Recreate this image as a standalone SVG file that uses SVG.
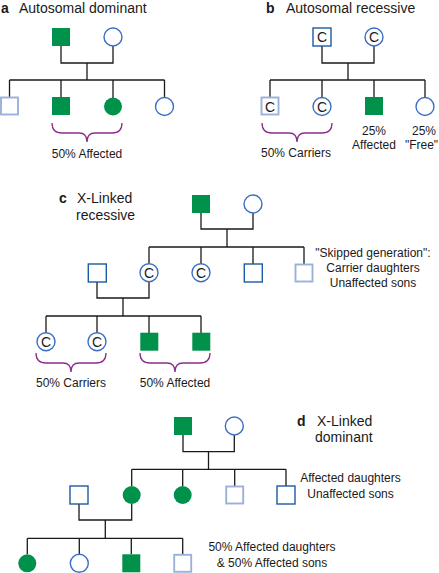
<svg xmlns="http://www.w3.org/2000/svg" width="439" height="573" viewBox="0 0 439 573">
<style>
text{font-family:"Liberation Sans",Arial,sans-serif;fill:#1a1a1a}
.t{font-size:14px}
.b{font-size:14px;font-weight:bold}
.l{font-size:12px;text-anchor:middle}
.c{font-size:14px;text-anchor:middle}
.aff{fill:#00914b;stroke:none}
.cir{fill:#fff;stroke:#3a6fc4;stroke-width:1.4}
.dk{fill:#fff;stroke:#1a5aa8;stroke-width:1.4}
.lt{fill:#fff;stroke:#9cb1da;stroke-width:1.9}
.ln{fill:none;stroke:#1a1a1a;stroke-width:1.3}
.br{fill:none;stroke:#8b2f8a;stroke-width:1.3}
</style>
<rect width="439" height="573" fill="#fff"/>

<!-- Panel a -->
<g id="title-a"><text class="b" x="1" y="13">a</text><text class="t" x="19" y="13">Autosomal dominant</text></g>
<g id="connectors-a">
<path class="ln" d="M61,46V63H113V46M87,63V80M9.5,80H164.5M9.5,80V97M61,80V97M113,80V98M164.5,80V98"/>
</g>
<g id="a-father"><rect class="aff" x="52" y="28" width="18" height="18"/></g>
<g id="a-mother"><circle class="cir" cx="113" cy="37" r="9"/></g>
<g id="a-child1"><rect class="lt" x="1" y="97.5" width="17" height="17"/></g>
<g id="a-child2"><rect class="aff" x="52" y="97" width="18" height="18"/></g>
<g id="a-child3"><circle class="aff" cx="113" cy="106.5" r="9"/></g>
<g id="a-child4"><circle class="cir" cx="164.5" cy="106.5" r="9"/></g>
<g id="a-brace"><path class="br" d="M52,123Q52,133 62,133H79Q87,133 87,142Q87,133 95,133H112Q122,133 122,123"/>
<text class="l" x="87" y="158">50% Affected</text></g>

<!-- Panel b -->
<g id="title-b"><text class="b" x="266" y="13">b</text><text class="t" x="286" y="13">Autosomal recessive</text></g>
<g id="connectors-b">
<path class="ln" d="M322,46V63H374V46M348,63V80M270,80H425M270,80V97M322,80V98M374,80V97M425,80V98"/>
</g>
<g id="b-father"><rect class="dk" x="313" y="28" width="18" height="18"/><text class="c" x="322" y="42">C</text></g>
<g id="b-mother"><circle class="cir" cx="374" cy="37" r="9"/><text class="c" x="374" y="42">C</text></g>
<g id="b-child1"><rect class="lt" x="261.5" y="97.5" width="17" height="17"/><text class="c" x="270" y="111.5">C</text></g>
<g id="b-child2"><circle class="cir" cx="322" cy="106.5" r="9"/><text class="c" x="322" y="111.5">C</text></g>
<g id="b-child3"><rect class="aff" x="365" y="97" width="18" height="18"/></g>
<g id="b-child4"><circle class="cir" cx="425" cy="106.5" r="9"/></g>
<g id="b-brace"><path class="br" d="M262,123Q262,133 272,133H289Q297,133 297,142Q297,133 305,133H322Q332,133 332,123"/>
<text class="l" x="296" y="157">50% Carriers</text></g>
<g id="b-labels"><text class="l" x="374" y="135">25%</text><text class="l" x="374" y="149">Affected</text>
<text class="l" x="424" y="135">25%</text><text class="l" x="421.5" y="149">"Free"</text></g>

<!-- Panel c -->
<g id="title-c"><text class="b" x="59" y="203">c</text><text class="t" x="77" y="203">X-Linked</text><text class="t" x="76" y="220">recessive</text></g>
<g id="connectors-c">
<path class="ln" d="M201,213V229H253V213M227,229V247M149,247H304M149,247V264M201,247V264M253,247V264M304,247V264"/>
<path class="ln" d="M97,282V298H149V281.5M123,298V316M46,316H201M46,316V333M97,316V333M149,316V333M201,316V333"/>
</g>
<g id="c-father"><rect class="aff" x="192" y="195" width="18" height="18"/></g>
<g id="c-mother"><circle class="cir" cx="253" cy="204" r="9"/></g>
<g id="c-spouse"><rect class="dk" x="88.3" y="264" width="18" height="18"/></g>
<g id="c-daughter1"><circle class="cir" cx="149" cy="272.7" r="9"/><text class="c" x="149" y="277.7">C</text></g>
<g id="c-daughter2"><circle class="cir" cx="201" cy="272.7" r="9"/><text class="c" x="201" y="277.7">C</text></g>
<g id="c-son1"><rect class="dk" x="244.3" y="264" width="18" height="18"/></g>
<g id="c-son2"><rect class="lt" x="295.5" y="264.5" width="17" height="17"/></g>
<g id="c-note"><text class="l" x="373" y="257">"Skipped generation":</text><text class="l" x="373" y="272">Carrier daughters</text><text class="l" x="373" y="287">Unaffected sons</text></g>
<g id="c-gc1"><circle class="cir" cx="46" cy="341.7" r="9"/><text class="c" x="46" y="346.7">C</text></g>
<g id="c-gc2"><circle class="cir" cx="97" cy="341.7" r="9"/><text class="c" x="97" y="346.7">C</text></g>
<g id="c-gc3"><rect class="aff" x="140.3" y="332.7" width="18" height="18"/></g>
<g id="c-gc4"><rect class="aff" x="192.3" y="332.7" width="18" height="18"/></g>
<g id="c-brace1"><path class="br" d="M36,353Q36,363 46,363H63Q71,363 71,372Q71,363 79,363H96Q106,363 106,353"/>
<text class="l" x="71" y="387">50% Carriers</text></g>
<g id="c-brace2"><path class="br" d="M140,353Q140,363 150,363H167Q175,363 175,372Q175,363 183,363H200Q210,363 210,353"/>
<text class="l" x="175" y="387">50% Affected</text></g>

<!-- Panel d -->
<g id="title-d"><text class="b" x="297" y="426">d</text><text class="t" x="317" y="426">X-Linked</text><text class="t" x="315" y="442">dominant</text></g>
<g id="connectors-d">
<path class="ln" d="M183,435V451.7H234.3V435M208.5,451.7V469.3M131.7,469.3H286M131.7,469.3V486M182.7,469.3V486M234.7,469.3V486M286,469.3V486"/>
<path class="ln" d="M79,504V520H131.7V504M105.3,520V538.3M27.3,538.3H182.7M27.3,538.3V554.3M79.3,538.3V554.3M131.3,538.3V554.3M182.7,538.3V554.3"/>
</g>
<g id="d-father"><rect class="aff" x="174" y="417" width="18" height="18"/></g>
<g id="d-mother"><circle class="cir" cx="234.3" cy="426" r="9"/></g>
<g id="d-spouse"><rect class="dk" x="70" y="486" width="18" height="18"/></g>
<g id="d-daughter1"><circle class="aff" cx="131.7" cy="495" r="9"/></g>
<g id="d-daughter2"><circle class="aff" cx="182.7" cy="495" r="9"/></g>
<g id="d-son1"><rect class="lt" x="226.2" y="486.5" width="17" height="17"/></g>
<g id="d-son2"><rect class="dk" x="277" y="486" width="18" height="18"/></g>
<g id="d-note1"><text class="l" x="350.5" y="482">Affected daughters</text><text class="l" x="350.5" y="497.5">Unaffected sons</text></g>
<g id="d-gc1"><circle class="aff" cx="27.3" cy="563.3" r="9"/></g>
<g id="d-gc2"><circle class="cir" cx="79.3" cy="563.3" r="9"/></g>
<g id="d-gc3"><rect class="aff" x="122.3" y="554.3" width="18" height="18"/></g>
<g id="d-gc4"><rect class="lt" x="174.2" y="554.8" width="17" height="17"/></g>
<g id="d-note2"><text class="l" x="272" y="551">50% Affected daughters</text><text class="l" x="272" y="567">&amp; 50% Affected sons</text></g>
</svg>
